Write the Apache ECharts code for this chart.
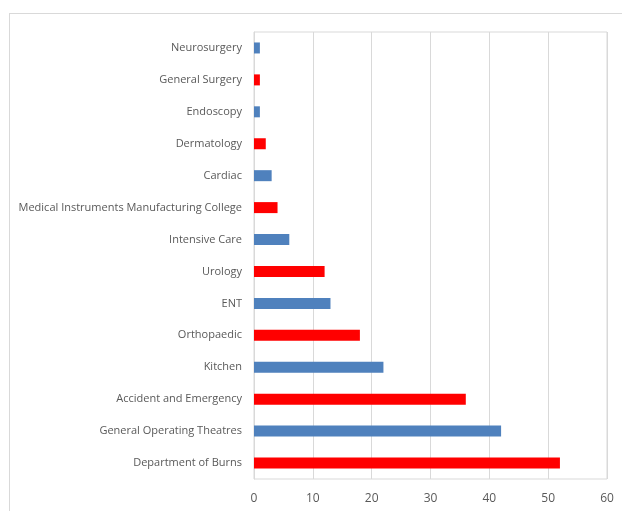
<!DOCTYPE html>
<html>
<head>
<meta charset="utf-8">
<script src="https://cdn.jsdelivr.net/npm/echarts@6/dist/echarts.min.js"></script>
<style>
  html, body { margin: 0; padding: 0; background: #fff; overflow: hidden; }
  #frame { position: absolute; left: 9px; top: 13px; width: 660px; height: 560px; border: 1px solid #d9d9d9; }
  #chart { position: absolute; left: 0; top: 0; width: 622px; height: 511px; }
</style>
</head>
<body>
<div id="frame"></div>
<div id="chart"></div>
<script>
// categories listed bottom to top
const categories = [
  'Department of Burns',
  'General Operating Theatres',
  'Accident and Emergency',
  'Kitchen',
  'Orthopaedic',
  'ENT',
  'Urology',
  'Intensive Care',
  'Medical Instruments Manufacturing College',
  'Cardiac',
  'Dermatology',
  'Endoscopy',
  'General Surgery',
  'Neurosurgery'
]
const values = [52, 42, 36, 22, 18, 13, 12, 6, 4, 3, 2, 1, 1, 1]
const xTicks = [0, 10, 20, 30, 40, 50, 60]

const RED = '#ff0000'
const BLUE = '#4f81bd'
const labelFont = '"Open Sans", sans-serif'

const chart = echarts.init(document.getElementById('chart'))
chart.setOption({
  animation: false,
  grid: {
    left: 254,
    right: 15,
    top: 32,
    bottom: 32,
    outerBoundsMode: 'none',
    containLabel: false,
    show: true,
    borderColor: '#d9d9d9',
    borderWidth: 1
  },
  xAxis: {
    type: 'value',
    min: xTicks[0],
    max: xTicks[xTicks.length - 1],
    interval: 10,
    axisLine: { show: false },
    axisTick: { show: false },
    splitLine: { lineStyle: { color: '#d9d9d9', width: 1 } },
    axisLabel: { color: '#595959', fontSize: 12, fontFamily: labelFont, margin: 14 }
  },
  yAxis: {
    type: 'category',
    data: categories,
    axisLine: { show: true, lineStyle: { color: '#d9d9d9' } },
    axisTick: { show: false },
    axisLabel: { color: '#595959', fontSize: 11, fontFamily: labelFont, margin: 12 }
  },
  series: [{
    type: 'bar',
    data: values,
    barWidth: 11,
    itemStyle: {
      color: (p) => (p.dataIndex % 2 === 0 ? RED : BLUE)
    }
  }]
})
</script>
</body>
</html>
